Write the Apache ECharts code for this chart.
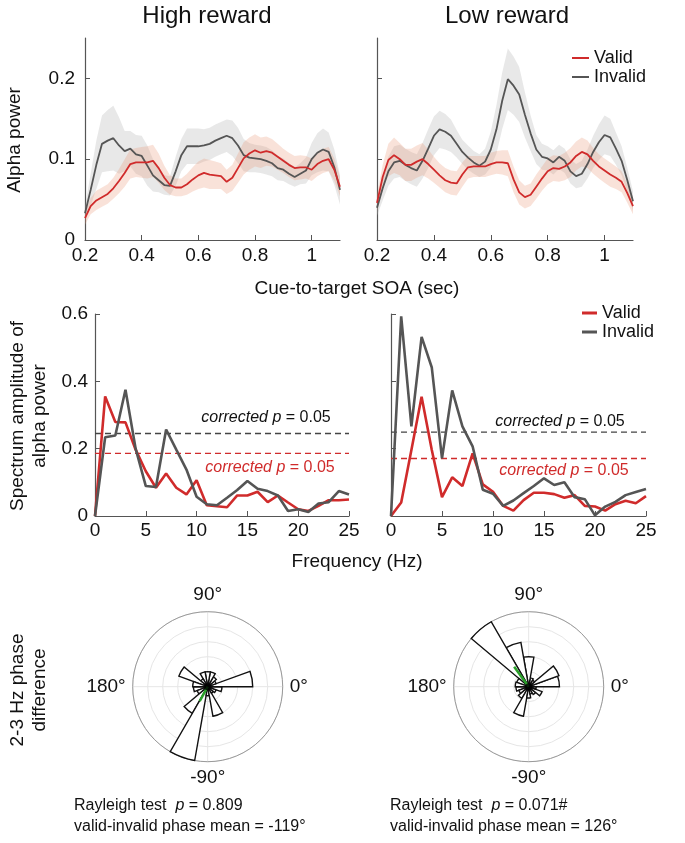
<!DOCTYPE html>
<html>
<head>
<meta charset="utf-8">
<script src="https://cdn.jsdelivr.net/npm/echarts@6/dist/echarts.min.js"></script>
<style>
html, body { margin: 0; padding: 0; background: #fff; }
#chart { width: 685px; height: 843px; }
</style>
</head>
<body>
<div id="chart"></div>
<script>
// SOA time points (sec)
const soa = [0.2, 0.22, 0.24, 0.26, 0.28, 0.3, 0.32, 0.34, 0.36, 0.38, 0.4, 0.42, 0.44, 0.46, 0.48, 0.5, 0.52, 0.54, 0.56, 0.58,
  0.6, 0.62, 0.64, 0.66, 0.68, 0.7, 0.72, 0.74, 0.76, 0.78, 0.8, 0.82, 0.84, 0.86, 0.88, 0.9, 0.92, 0.94, 0.96, 0.98,
  1, 1.02, 1.04, 1.06, 1.08, 1.1]

// alpha power, high reward
const hrValid = [0.027, 0.042, 0.049, 0.053, 0.057, 0.064, 0.073, 0.083, 0.094, 0.096, 0.096, 0.096, 0.098, 0.089, 0.077, 0.068, 0.065, 0.065, 0.069, 0.075,
  0.080, 0.083, 0.081, 0.080, 0.079, 0.072, 0.077, 0.089, 0.101, 0.107, 0.111, 0.108, 0.110, 0.108, 0.103, 0.098, 0.093, 0.089, 0.090, 0.090,
  0.087, 0.094, 0.098, 0.100, 0.087, 0.066]
const hrValidSe = [0.008, 0.01, 0.012, 0.012, 0.012, 0.013, 0.015, 0.017, 0.018, 0.018, 0.019, 0.02, 0.02, 0.018, 0.015, 0.012, 0.011, 0.011, 0.013, 0.015,
  0.017, 0.018, 0.018, 0.017, 0.016, 0.015, 0.016, 0.018, 0.02, 0.02, 0.02, 0.019, 0.018, 0.017, 0.016, 0.015, 0.015, 0.015, 0.015, 0.014,
  0.014, 0.015, 0.015, 0.015, 0.014, 0.012]
const hrInvalid = [0.033, 0.062, 0.093, 0.119, 0.123, 0.126, 0.117, 0.110, 0.113, 0.106, 0.104, 0.092, 0.080, 0.074, 0.068, 0.067, 0.085, 0.105, 0.116, 0.116,
  0.116, 0.117, 0.119, 0.123, 0.126, 0.129, 0.126, 0.117, 0.105, 0.102, 0.101, 0.100, 0.098, 0.095, 0.089, 0.087, 0.082, 0.078, 0.082, 0.086,
  0.100, 0.108, 0.112, 0.109, 0.090, 0.062]
const hrInvalidSe = [0.008, 0.02, 0.03, 0.035, 0.038, 0.04, 0.035, 0.025, 0.022, 0.024, 0.025, 0.025, 0.02, 0.015, 0.012, 0.012, 0.018, 0.02, 0.022, 0.022,
  0.022, 0.02, 0.02, 0.02, 0.02, 0.02, 0.022, 0.022, 0.02, 0.018, 0.017, 0.017, 0.017, 0.016, 0.015, 0.014, 0.013, 0.012, 0.013, 0.016,
  0.02, 0.024, 0.026, 0.024, 0.022, 0.018]

// alpha power, low reward
const lrValid = [0.046, 0.078, 0.099, 0.105, 0.100, 0.093, 0.093, 0.097, 0.100, 0.094, 0.087, 0.080, 0.074, 0.071, 0.070, 0.081, 0.090, 0.091, 0.091, 0.091,
  0.094, 0.096, 0.096, 0.095, 0.075, 0.059, 0.053, 0.056, 0.066, 0.076, 0.085, 0.089, 0.088, 0.091, 0.096, 0.104, 0.109, 0.106, 0.098, 0.091,
  0.086, 0.081, 0.077, 0.072, 0.058, 0.042]
const lrValidSe = [0.01, 0.015, 0.02, 0.022, 0.02, 0.02, 0.02, 0.02, 0.02, 0.018, 0.016, 0.015, 0.015, 0.015, 0.015, 0.015, 0.014, 0.013, 0.013, 0.013,
  0.014, 0.014, 0.015, 0.016, 0.016, 0.015, 0.014, 0.014, 0.015, 0.015, 0.016, 0.016, 0.016, 0.017, 0.018, 0.018, 0.018, 0.017, 0.016, 0.015,
  0.015, 0.015, 0.014, 0.013, 0.012, 0.01]
const lrInvalid = [0.040, 0.064, 0.085, 0.096, 0.098, 0.093, 0.089, 0.086, 0.098, 0.113, 0.129, 0.137, 0.134, 0.129, 0.119, 0.109, 0.102, 0.096, 0.092, 0.097,
  0.112, 0.137, 0.172, 0.199, 0.191, 0.180, 0.155, 0.132, 0.112, 0.103, 0.101, 0.096, 0.103, 0.098, 0.085, 0.079, 0.082, 0.094, 0.109, 0.121,
  0.130, 0.127, 0.113, 0.098, 0.074, 0.048]
const lrInvalidSe = [0.01, 0.015, 0.018, 0.02, 0.02, 0.02, 0.02, 0.02, 0.022, 0.024, 0.024, 0.023, 0.022, 0.02, 0.017, 0.015, 0.015, 0.014, 0.014, 0.016,
  0.022, 0.03, 0.035, 0.038, 0.036, 0.034, 0.028, 0.022, 0.018, 0.016, 0.015, 0.015, 0.015, 0.015, 0.015, 0.015, 0.016, 0.018, 0.02, 0.022,
  0.024, 0.023, 0.02, 0.018, 0.015, 0.012]

const alphaTicks = [0, 0.1, 0.2]
const soaTickEvery = 10

// spectrum amplitude (0..25 Hz)
const freq = [0, 1, 2, 3, 4, 5, 6, 7, 8, 9, 10, 11, 12, 13, 14, 15, 16, 17, 18, 19, 20, 21, 22, 23, 24, 25]
const hrSpecValid = [0, 0.355, 0.279, 0.278, 0.197, 0.133, 0.084, 0.126, 0.084, 0.064, 0.106, 0.032, 0.029, 0.026, 0.061, 0.061, 0.072, 0.041, 0.061, 0.040, 0.020, 0.015, 0.030, 0.047, 0.047, 0.049]
const hrSpecInvalid = [0, 0.234, 0.239, 0.375, 0.2, 0.089, 0.086, 0.257, 0.197, 0.138, 0.057, 0.035, 0.032, 0.054, 0.077, 0.104, 0.081, 0.074, 0.061, 0.015, 0.020, 0.012, 0.037, 0.041, 0.074, 0.064]
const lrSpecValid = [0, 0.040, 0.196, 0.354, 0.196, 0.056, 0.115, 0.089, 0.186, 0.094, 0.072, 0.030, 0.016, 0.047, 0.069, 0.069, 0.065, 0.054, 0.062, 0.030, 0.028, 0.016, 0.035, 0.045, 0.038, 0.059]
const lrSpecInvalid = [0, 0.593, 0.266, 0.532, 0.441, 0.171, 0.373, 0.266, 0.207, 0.078, 0.066, 0.030, 0.046, 0.068, 0.089, 0.112, 0.092, 0.100, 0.056, 0.050, 0.002, 0.028, 0.042, 0.062, 0.071, 0.080]
const threshValid = [0.186, 0.171]    // high, low
const threshInvalid = [0.245, 0.249]
const specTicks = [0, 0.2, 0.4, 0.6]

// 2-3 Hz phase difference rose histograms (20 deg bins from -180)
const roseBins = ['-180', '-160', '-140', '-120', '-100', '-80', '-60', '-40', '-20', '0', '20', '40', '60', '80', '100', '120', '140', '160']
const roseHigh = [0.19, 0.15, 0.41, 1.0, 0.12, 0.40, 0.10, 0.12, 0.19, 0.60, 0.12, 0.15, 0.20, 0.20, 0.20, 0.12, 0.41, 0.20]
const roseLow = [0.17, 0.14, 0.18, 0.40, 0.15, 0.10, 0.12, 0.19, 0.10, 0.41, 0.43, 0.10, 0.12, 0.40, 0.60, 1.0, 0.17, 0.18]
const phaseMean = [-119, 126]
const phaseMeanLen = [0.22, 0.33]
const phaseTickValues = [0, 90, 180, 270]
const phaseTickLabels = ['0°', '90°', '180°', '-90°']

const FONT = 'Liberation Sans, Arial, sans-serif'
const RED = '#d02b2b'
const GRAY = '#555555'
const AXIS = '#555555'
const INK = '#111111'

const chart = echarts.init(document.getElementById('chart'))

// 坐标轴
const topX = (gridIndex) => ({
  type: 'category', gridIndex, data: soa.map(String), boundaryGap: false,
  axisLine: { lineStyle: { color: AXIS, width: 1.2 } },
  axisTick: { inside: true, length: 5, interval: (i) => i % soaTickEvery === 0, lineStyle: { color: AXIS } },
  axisLabel: { interval: (i) => i % soaTickEvery === 0, color: INK, fontSize: 19, fontFamily: FONT, margin: 6 },
  splitLine: { show: false }
})
const topY = (gridIndex, showLabel) => ({
  type: 'value', gridIndex, min: 0, max: 0.25,
  axisLine: { show: true, lineStyle: { color: AXIS, width: 1.2 } },
  axisTick: { show: true, inside: true, length: 5, customValues: alphaTicks, lineStyle: { color: AXIS } },
  axisLabel: { show: showLabel, customValues: alphaTicks, color: INK, fontSize: 19, fontFamily: FONT, margin: 10 },
  splitLine: { show: false }
})
const midX = (gridIndex) => ({
  type: 'value', gridIndex, min: 0, max: 25, interval: 5,
  axisLine: { lineStyle: { color: AXIS, width: 1.2 } },
  axisTick: { inside: true, length: 5, lineStyle: { color: AXIS } },
  axisLabel: { color: INK, fontSize: 19, fontFamily: FONT, margin: 5 },
  splitLine: { show: false }
})
const midY = (gridIndex, showLabel) => ({
  type: 'value', gridIndex, min: 0, max: 0.6,
  axisLine: { show: true, lineStyle: { color: AXIS, width: 1.2 } },
  axisTick: { show: true, inside: true, length: 5, customValues: specTicks, lineStyle: { color: AXIS } },
  axisLabel: { show: showLabel, customValues: specTicks, color: INK, fontSize: 19, fontFamily: FONT, margin: 7 },
  splitLine: { show: false }
})

// 均值线 + 误差带
const bandSeries = (idx, name, mean, se, color, bandColor, key) => [
  {
    type: 'line', xAxisIndex: idx, yAxisIndex: idx, stack: key, silent: true, symbol: 'none',
    data: mean.map((m, i) => m - se[i]), lineStyle: { opacity: 0 }, z: 1
  },
  {
    type: 'line', xAxisIndex: idx, yAxisIndex: idx, stack: key, silent: true, symbol: 'none',
    data: se.map(s => 2 * s), lineStyle: { opacity: 0 }, areaStyle: { color: bandColor, opacity: 1 }, z: 1
  },
  {
    name, type: 'line', xAxisIndex: idx, yAxisIndex: idx, symbol: 'none', color,
    data: mean, lineStyle: { color, width: 1.8 }, z: 3
  }
]

const specSeries = (idx, name, vals, color) => ({
  name, type: 'line', xAxisIndex: idx, yAxisIndex: idx, symbol: 'none', color,
  data: freq.map((f, i) => [f, vals[i]]), lineStyle: { color, width: 2.6 }, z: 3
})
const threshSeries = (idx, value, color) => ({
  type: 'line', xAxisIndex: idx, yAxisIndex: idx, symbol: 'none', silent: true,
  data: [[freq[0], value], [freq[freq.length - 1], value]],
  lineStyle: { color, width: 1.4, type: [6, 4] }, z: 2
})

const GRAY_BAND = 'rgba(185,185,185,0.33)'
const RED_BAND = 'rgba(232,150,120,0.28)'

const centers = [[207.7, 686.7], [528.7, 686.7]]
const R = 75

const roseSeries = (k, vals) => ({
  type: 'bar', coordinateSystem: 'polar', polarIndex: 2 + k, data: vals,
  barCategoryGap: '0%', silent: true,
  itemStyle: { color: '#ffffff', borderColor: '#111', borderWidth: 1.4 }, z: 3
})
const meanSeries = (k) => {
  const a = (phaseMean[k] + 360) % 360
  return {
    type: 'line', coordinateSystem: 'polar', polarIndex: k, symbol: 'none', silent: true,
    data: [[0, a], [phaseMeanLen[k], a]], lineStyle: { color: '#2aa02a', width: 2.5 }, z: 5
  }
}
const centerDot = (k) => ({
  type: 'scatter', coordinateSystem: 'polar', polarIndex: k, data: [[0, 0]], symbolSize: 7,
  itemStyle: { color: '#000' }, silent: true, z: 6
})

const gridPolarAngle = (k) => ({
  polarIndex: k, type: 'value', min: 0, max: 360, interval: 90, startAngle: 0, clockwise: false,
  axisLine: { lineStyle: { color: '#9a9a9a', width: 1 } },
  axisTick: { show: false },
  axisLabel: {
    color: INK, fontSize: 19, fontFamily: FONT, margin: 7,
    formatter: (v) => phaseTickLabels[phaseTickValues.indexOf(v)] || ''
  },
  splitLine: { lineStyle: { color: '#e6e6e6', width: 1 } }
})
const gridPolarRadius = (k) => ({
  polarIndex: k, min: 0, max: 1, interval: 0.2,
  axisLine: { show: false }, axisTick: { show: false }, axisLabel: { show: false },
  splitLine: { lineStyle: { color: '#e6e6e6', width: 1 } }
})
const barPolarAngle = (k) => ({
  polarIndex: k, type: 'category', data: roseBins, startAngle: 180, clockwise: false,
  axisLine: { show: false }, axisTick: { show: false }, axisLabel: { show: false }, splitLine: { show: false }
})
const barPolarRadius = (k) => ({
  polarIndex: k, min: 0, max: 1,
  axisLine: { show: false }, axisTick: { show: false }, axisLabel: { show: false }, splitLine: { show: false }
})

const txt = (x, y, text, opt = {}) => ({
  type: 'text', x, y, rotation: opt.rotation || 0, silent: true,
  style: {
    text, fontSize: opt.size || 19, fontFamily: FONT, fill: opt.color || INK,
    align: opt.align || 'center', verticalAlign: 'middle', rich: opt.rich
  }
})
const richP = (size, color) => ({
  i: { fontStyle: 'italic', fontSize: size, fontFamily: FONT, fill: color },
  n: { fontSize: size, fontFamily: FONT, fill: color }
})
const corrected = (x, y, color) => txt(x, y, '{i|corrected p}{n| = 0.05}', { size: 16, color, rich: richP(16, color) })

const option = {
  animation: false,
  backgroundColor: '#ffffff',
  grid: [
    { left: 85, top: 38, width: 255, height: 202 },
    { left: 377, top: 38, width: 256, height: 202 },
    { left: 95, top: 314, width: 254, height: 202 },
    { left: 391, top: 314, width: 255, height: 202 }
  ],
  xAxis: [topX(0), topX(1), midX(2), midX(3)],
  yAxis: [topY(0, true), topY(1, false), midY(2, true), midY(3, false)],
  polar: [
    { center: centers[0], radius: R },
    { center: centers[1], radius: R },
    { center: centers[0], radius: R },
    { center: centers[1], radius: R }
  ],
  angleAxis: [gridPolarAngle(0), gridPolarAngle(1), barPolarAngle(2), barPolarAngle(3)],
  radiusAxis: [gridPolarRadius(0), gridPolarRadius(1), barPolarRadius(2), barPolarRadius(3)],
  legend: [
    {
      data: ['Valid', 'Invalid'], left: 567, top: 44, orient: 'vertical', icon: 'rect',
      itemWidth: 17, itemHeight: 2, itemGap: 1, selectedMode: false,
      textStyle: { fontSize: 18, lineHeight: 18, fontFamily: FONT, color: INK }
    },
    {
      data: ['Valid', 'Invalid'], left: 577, top: 299, orient: 'vertical', icon: 'rect',
      itemWidth: 15, itemHeight: 3, itemGap: 1, selectedMode: false,
      textStyle: { fontSize: 18, lineHeight: 18, fontFamily: FONT, color: INK }
    }
  ],
  series: [
    ...bandSeries(0, 'Invalid', hrInvalid, hrInvalidSe, GRAY, GRAY_BAND, 'hrInv'),
    ...bandSeries(0, 'Valid', hrValid, hrValidSe, RED, RED_BAND, 'hrVal'),
    ...bandSeries(1, 'Invalid', lrInvalid, lrInvalidSe, GRAY, GRAY_BAND, 'lrInv'),
    ...bandSeries(1, 'Valid', lrValid, lrValidSe, RED, RED_BAND, 'lrVal'),
    threshSeries(2, threshInvalid[0], '#444444'),
    threshSeries(2, threshValid[0], RED),
    threshSeries(3, threshInvalid[1], '#444444'),
    threshSeries(3, threshValid[1], RED),
    specSeries(2, 'Valid', hrSpecValid, RED),
    specSeries(2, 'Invalid', hrSpecInvalid, GRAY),
    specSeries(3, 'Valid', lrSpecValid, RED),
    specSeries(3, 'Invalid', lrSpecInvalid, GRAY),
    roseSeries(0, roseHigh),
    roseSeries(1, roseLow),
    meanSeries(0),
    meanSeries(1),
    centerDot(0),
    centerDot(1)
  ],
  graphic: [
    txt(207, 16, 'High reward', { size: 24 }),
    txt(507, 16, 'Low reward', { size: 24 }),
    txt(15, 140, 'Alpha power', { rotation: Math.PI / 2 }),
    txt(357, 289, 'Cue-to-target SOA (sec)'),
    txt(18, 416, 'Spectrum amplitude of', { rotation: Math.PI / 2 }),
    txt(40, 416, 'alpha power', { rotation: Math.PI / 2 }),
    txt(357, 562, 'Frequency (Hz)'),
    corrected(266, 418, INK),
    corrected(270, 468, RED),
    corrected(560, 422, INK),
    corrected(564, 471, RED),
    txt(18, 690, '2-3 Hz phase', { rotation: Math.PI / 2 }),
    txt(40, 690, 'difference', { rotation: Math.PI / 2 }),
    txt(74, 806, '{n|Rayleigh test  }{i|p}{n| = 0.809}', { align: 'left', size: 16, rich: richP(16, INK) }),
    txt(74, 827, 'valid-invalid phase mean = -119°', { align: 'left', size: 16 }),
    txt(390, 806, '{n|Rayleigh test  }{i|p}{n| = 0.071#}', { align: 'left', size: 16, rich: richP(16, INK) }),
    txt(390, 827, 'valid-invalid phase mean = 126°', { align: 'left', size: 16 })
  ]
}

chart.setOption(option)
</script>
</body>
</html>
